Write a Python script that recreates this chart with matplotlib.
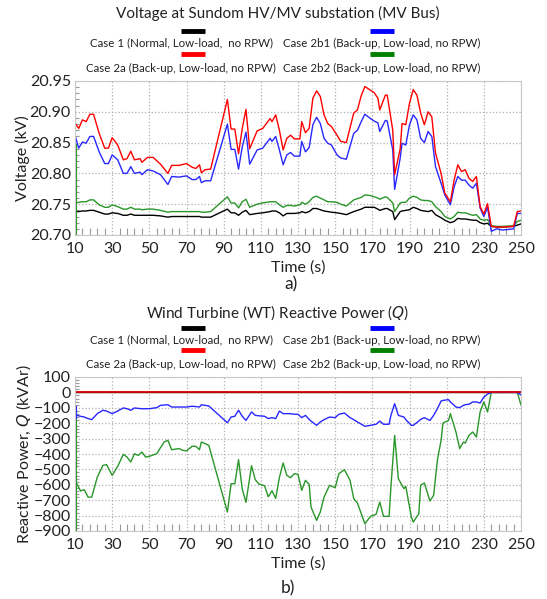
import matplotlib
matplotlib.use("Agg")
import matplotlib.pyplot as plt
from matplotlib.lines import Line2D
from matplotlib.ticker import MultipleLocator, FixedLocator, FormatStrFormatter

plt.rcParams['font.family'] = ['Lato', 'DejaVu Sans']

# ---------------- Data: voltage (kV) ----------------
t_v = [10, 12, 14, 16, 18, 20, 23, 26, 28, 30, 33, 36, 38, 40, 42, 45, 46, 49, 52, 56,
       60, 62, 66, 70, 73, 75, 77, 78, 80, 83, 92, 94, 96, 98, 100, 102, 104, 108, 111,
       115, 116, 118, 120, 122, 124, 126, 128, 131, 132, 134, 136, 138, 140, 142, 144,
       146, 148, 151, 153, 156, 160, 162, 164, 166, 169, 171, 173, 174, 177, 178, 181,
       182, 185, 186, 188, 190, 192, 194, 196, 198, 200, 202, 204, 207, 209, 212, 214,
       216, 218, 220, 222, 224, 226, 228, 230, 232, 234, 237, 240, 246, 248, 250]

v_case1 = [20.738, 20.738, 20.739, 20.739, 20.740, 20.740, 20.737, 20.734, 20.734, 20.736,
           20.735, 20.732, 20.732, 20.734, 20.732, 20.732, 20.732, 20.732, 20.732, 20.731,
           20.729, 20.730, 20.730, 20.730, 20.730, 20.730, 20.730, 20.729, 20.729, 20.729,
           20.742, 20.736, 20.736, 20.732, 20.737, 20.740, 20.733, 20.735, 20.736,
           20.738, 20.739, 20.739, 20.736, 20.731, 20.735, 20.735, 20.735, 20.736, 20.738,
           20.736, 20.738, 20.743, 20.743, 20.741, 20.739, 20.738, 20.737, 20.736, 20.735,
           20.733, 20.738, 20.740, 20.742, 20.745, 20.745, 20.745, 20.742, 20.740, 20.743,
           20.743, 20.738, 20.725, 20.738, 20.739, 20.740, 20.741, 20.745, 20.743, 20.740,
           20.739, 20.738, 20.740, 20.733, 20.728, 20.724, 20.720, 20.722, 20.727, 20.726,
           20.726, 20.725, 20.724, 20.724, 20.720, 20.718, 20.719, 20.714, 20.713, 20.713,
           20.714, 20.716, 20.718]

v_case2a = [20.882, 20.873, 20.887, 20.884, 20.896, 20.896, 20.865, 20.841, 20.841, 20.858,
            20.846, 20.822, 20.824, 20.836, 20.822, 20.824, 20.818, 20.826, 20.826, 20.815,
            20.800, 20.813, 20.813, 20.816, 20.810, 20.808, 20.814, 20.801, 20.806, 20.807,
            20.920, 20.872, 20.872, 20.832, 20.873, 20.904, 20.840, 20.869, 20.873,
            20.889, 20.884, 20.895, 20.870, 20.838, 20.857, 20.862, 20.856, 20.856, 20.884,
            20.866, 20.873, 20.922, 20.934, 20.925, 20.895, 20.881, 20.876, 20.862, 20.852,
            20.850, 20.898, 20.903, 20.926, 20.941, 20.935, 20.931, 20.922, 20.903, 20.927,
            20.927, 20.870, 20.798, 20.840, 20.881, 20.879, 20.914, 20.936, 20.927, 20.898,
            20.879, 20.900, 20.892, 20.833, 20.800, 20.768, 20.754, 20.789, 20.814, 20.803,
            20.806, 20.792, 20.787, 20.795, 20.746, 20.734, 20.751, 20.714, 20.713, 20.713,
            20.714, 20.738, 20.739]

v_case2b1 = [20.862, 20.841, 20.851, 20.849, 20.860, 20.860, 20.835, 20.816, 20.816, 20.830,
             20.822, 20.800, 20.800, 20.811, 20.800, 20.802, 20.798, 20.806, 20.804, 20.798,
             20.782, 20.795, 20.794, 20.796, 20.790, 20.790, 20.795, 20.785, 20.788, 20.788,
             20.880, 20.839, 20.839, 20.807, 20.843, 20.867, 20.815, 20.838, 20.841,
             20.857, 20.852, 20.860, 20.838, 20.814, 20.830, 20.834, 20.828, 20.828, 20.852,
             20.835, 20.842, 20.879, 20.891, 20.881, 20.857, 20.849, 20.846, 20.830, 20.825,
             20.823, 20.865, 20.870, 20.884, 20.896, 20.889, 20.885, 20.882, 20.868, 20.886,
             20.885, 20.838, 20.774, 20.825, 20.849, 20.846, 20.879, 20.895, 20.887, 20.857,
             20.850, 20.868, 20.860, 20.811, 20.784, 20.765, 20.749, 20.778, 20.795, 20.789,
             20.789, 20.781, 20.776, 20.784, 20.744, 20.730, 20.745, 20.706, 20.710, 20.708,
             20.710, 20.735, 20.735]

v_case2b2 = [20.752, 20.753, 20.754, 20.754, 20.757, 20.757, 20.749, 20.745, 20.745, 20.749,
             20.746, 20.742, 20.742, 20.745, 20.742, 20.742, 20.741, 20.742, 20.742, 20.740,
             20.737, 20.738, 20.738, 20.738, 20.738, 20.738, 20.738, 20.737, 20.737, 20.738,
             20.762, 20.752, 20.752, 20.744, 20.754, 20.758, 20.745, 20.750, 20.752,
             20.754, 20.754, 20.754, 20.749, 20.745, 20.748, 20.748, 20.747, 20.749, 20.753,
             20.750, 20.754, 20.761, 20.763, 20.760, 20.757, 20.754, 20.754, 20.753, 20.750,
             20.747, 20.757, 20.759, 20.761, 20.765, 20.764, 20.762, 20.760, 20.758, 20.762,
             20.761, 20.752, 20.738, 20.752, 20.753, 20.753, 20.760, 20.763, 20.761, 20.757,
             20.756, 20.756, 20.754, 20.746, 20.738, 20.730, 20.726, 20.730, 20.737, 20.736,
             20.736, 20.734, 20.732, 20.733, 20.726, 20.724, 20.725, 20.715, 20.714, 20.714,
             20.715, 20.722, 20.724]

# initial transient of Case 2b2 at t = 10 s
t_v_init = [10, 10]
v_case2b2_init = [20.70, 20.845]

# ---------------- Data: reactive power (kVAr) ----------------
t_q_flat = [10, 250]
q_case1 = [0, 0]
q_case2a = [0, 0]

t_q = [10, 11, 13, 15, 17, 19, 22, 25, 27, 30, 33, 36, 38, 40, 42, 44, 46, 48, 50, 54,
       56, 58, 60, 62, 66, 68, 70, 73, 75, 77, 78, 80, 82, 92, 94, 96, 98, 100, 102, 105,
       107, 109, 112, 114, 116, 118, 120, 122, 124, 126, 128, 130, 132, 134, 136, 137,
       140, 142, 144, 147, 150, 152, 155, 158, 160, 162, 166, 169, 172, 174, 176, 179,
       180, 182, 184, 187, 188, 191, 192, 195, 196, 198, 201, 203, 205, 207, 208, 211,
       212, 215, 217, 219, 220, 222, 224, 226, 228, 230, 232, 234, 248, 250]

q_case2b1 = [-105, -149, -155, -160, -170, -177, -138, -116, -121, -138, -121, -101, -106,
             -116, -101, -104, -106, -106, -106, -99, -84, -82, -80, -95, -95, -95, -95, -90,
             -92, -95, -80, -84, -88, -197, -160, -155, -116, -155, -182, -127, -149, -152,
             -155, -170, -164, -170, -121, -138, -138, -138, -142, -142, -164, -149, -175,
             -186, -214, -192, -177, -160, -164, -142, -134, -164, -177, -192, -220, -214,
             -207, -186, -207, -207, -149, -73, -149, -160, -177, -214, -214, -186, -175,
             -164, -182, -149, -106, -56, -52, -47, -62, -95, -99, -84, -80, -77, -62, -62,
             -69, -30, -11, 0, 0, -17]

q_case2b2 = [-590, -593, -640, -632, -680, -680, -550, -474, -469, -539, -480, -402, -420,
             -452, -398, -409, -387, -420, -415, -398, -359, -322, -311, -372, -365, -376,
             -380, -350, -350, -372, -322, -333, -344, -777, -593, -593, -437, -627, -714,
             -476, -567, -595, -606, -678, -639, -688, -552, -458, -539, -554, -528, -532,
             -636, -571, -597, -744, -831, -777, -680, -603, -619, -528, -502, -571, -690,
             -719, -853, -805, -792, -712, -805, -805, -614, -279, -560, -625, -610, -809,
             -842, -788, -603, -588, -705, -668, -441, -311, -199, -182, -138, -257, -365,
             -322, -329, -279, -257, -290, -127, -62, -127, 0, 0, -82]

# initial transients at t = 10 s
t_q_init = [10, 10]
q_case2b2_init = [-950, -160]
q_case2b1_init = [-100, -160]

x_major = list(range(10, 251, 20))
x_minor = list(range(10, 251, 4))

# ---------------- Style ----------------
c_case1 = '#000000'
c_case2a = '#ff0000'
c_case2b1 = '#2828ff'
c_case2b2 = '#2a962a'
labels = ['Case 1 (Normal, Low-load,  no RPW)',
          'Case 2a (Back-up, Low-load, no RPW)',
          'Case 2b1 (Back-up, Low-load, no RPW)',
          'Case 2b2 (Back-up, Low-load, no RPW)']
legend_colors = ['#000000', '#ff0000', '#0000ff', '#008000']

fig = plt.figure(figsize=(5.47, 5.99), dpi=100)
W, H = 547, 599

def ax_rect(l, t, r, b):
    return [l / W, 1 - b / H, (r - l) / W, (b - t) / H]

ax1 = fig.add_axes(ax_rect(75, 81, 521, 235))
ax2 = fig.add_axes(ax_rect(75, 377, 521, 531))

lw = 1.0
# voltage plot
ax1.plot(t_v, v_case1, color=c_case1, lw=lw)
ax1.plot(t_v_init, v_case2b2_init, color=c_case2b2, lw=3)
ax1.plot([10, 10], [v_case2b2_init[1], v_case2b2[0]], color=c_case2b2, lw=1)
ax1.plot(t_v, v_case2b2, color=c_case2b2, lw=lw)
ax1.plot(t_v, v_case2b1, color=c_case2b1, lw=lw)
ax1.plot(t_v, v_case2a, color=c_case2a, lw=lw)

# reactive power plot
ax2.plot(t_q_flat, q_case1, color=c_case1, lw=lw)
ax2.plot(t_q_init, q_case2b2_init, color=c_case2b2, lw=3)
ax2.plot(t_q, q_case2b2, color=c_case2b2, lw=lw)
ax2.plot(t_q_init, q_case2b1_init, color=c_case2b1, lw=3)
ax2.plot(t_q, q_case2b1, color=c_case2b1, lw=lw)
ax2.plot(t_q_flat, q_case2a, color='#dd0000', lw=1.3)

for ax in (ax1, ax2):
    ax.set_xlim(10, 250)
    ax.xaxis.set_major_locator(FixedLocator(x_major))
    ax.xaxis.set_minor_locator(FixedLocator(x_minor))
    ax.grid(True, which='major', color='#b0b0b0', linestyle=':', linewidth=0.9)
    ax.tick_params(which='major', length=0, labelsize=11.5, pad=3, colors='#222222')
    ax.tick_params(axis='x', which='major', pad=5)
    ax.tick_params(which='minor', direction='in', length=5, color='#999999', width=0.8)
    ax.tick_params(axis='y', which='minor', length=3)
    for s in ax.spines.values():
        s.set_color('#c8c8c8')
        s.set_linewidth(0.8)
    ax.set_xlabel('Time (s)', fontsize=11.5, labelpad=3, color='#222222')

ax1.set_ylim(20.70, 20.95)
ax1.yaxis.set_major_locator(MultipleLocator(0.05))
ax1.yaxis.set_minor_locator(MultipleLocator(0.01))
ax1.yaxis.set_major_formatter(FormatStrFormatter('%.2f'))
ax1.set_ylabel('Voltage (kV)', fontsize=11.5, labelpad=0, color='#222222')

ax2.set_ylim(-900, 100)
ax2.yaxis.set_major_locator(MultipleLocator(100))
ax2.yaxis.set_minor_locator(MultipleLocator(20))
ax2.set_ylabel('Reactive Power, $Q$ (kVAr)', fontsize=11.5, labelpad=0, color='#222222')

# titles, legends and panel labels
def legend_block(title, title_y, y1, y2):
    fig.text(278 / W, 1 - title_y / H, title, ha='center', va='center', fontsize=11, color='#222222')
    cols = [(94, 268, 193), (290, 473, 382)]
    rows = [(y1, y1 + 12), (y2, y2 + 14)]
    order = [(0, 0), (0, 1), (1, 0), (1, 1)]
    for k, (ci, ri) in enumerate(order):
        xl, xr, xc = cols[ci]
        ly, ty = rows[ri]
        fig.add_artist(Line2D([(xc - 12) / W, (xc + 12) / W], [1 - ly / H, 1 - ly / H],
                              color=legend_colors[k], lw=3.5, solid_capstyle='butt'))
        fig.text((xl + xr) / 2 / W, 1 - ty / H, labels[k], ha='center', va='center',
                 fontsize=8.3, color='#222222')

legend_block('Voltage at Sundom HV/MV substation (MV Bus)', 13, 31, 54)
legend_block('Wind Turbine (WT) Reactive Power ($Q$)', 313, 328, 350)

fig.text(291 / W, 1 - 284 / H, 'a)', ha='center', va='center', fontsize=12.5, color='#222222')
fig.text(288 / W, 1 - 588 / H, 'b)', ha='center', va='center', fontsize=12.5, color='#222222')

fig.savefig('out.png', dpi=100, facecolor='white')
